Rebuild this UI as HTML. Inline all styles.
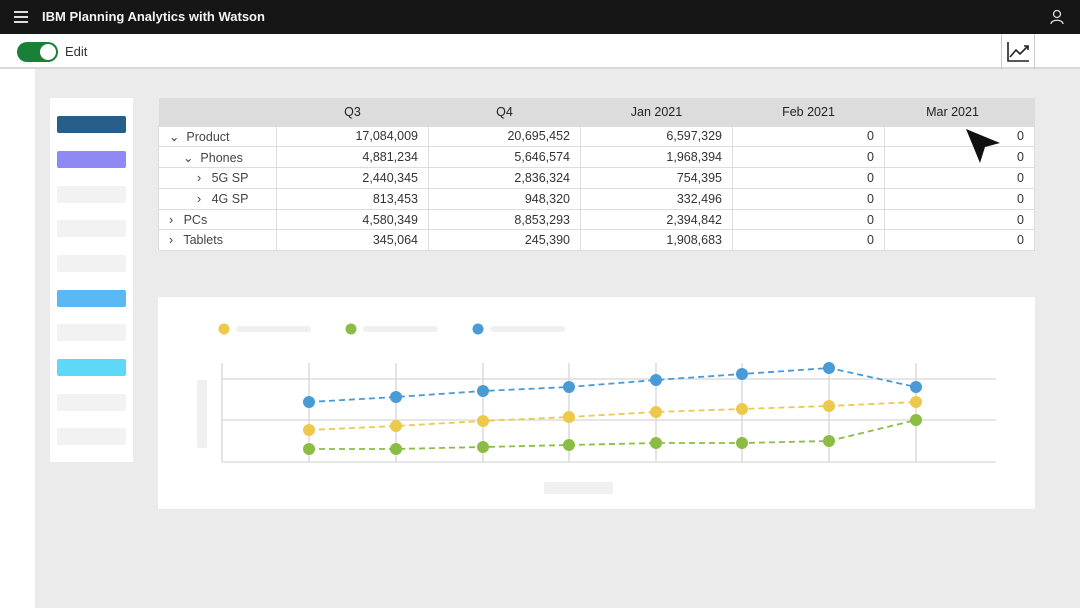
<!DOCTYPE html><html><head><style>
*{margin:0;padding:0;box-sizing:border-box}
body{width:1080px;height:608px;overflow:hidden;background:#ebebeb;font-family:"Liberation Sans",sans-serif;position:relative}
.a{position:absolute}
table{border-collapse:collapse;position:absolute;left:158px;top:98px;width:877px;font-size:12.5px;color:#333}
td{height:20.8px;border:1px solid #ddd;background:#fff;text-align:right;padding-right:10px}
th{height:28px;background:#dcdcdc;font-weight:normal;text-align:center;color:#222}
td.l{text-align:left;padding-left:10px;color:#444}
.sw{position:absolute;left:57px;width:69px;height:17px;border-radius:2px}
</style></head><body>
<div class="a" style="left:0;top:0;width:1080px;height:34px;background:#161616"></div>
<div class="a" style="left:14px;top:11px;width:14px;height:12px;border-top:2px solid #ddd;border-bottom:2px solid #ddd"><div style="margin-top:3px;border-top:2px solid #ddd"></div></div>
<div class="a" style="left:42px;top:9px;color:#f4f4f4;font-weight:bold;font-size:13px">IBM Planning Analytics with Watson</div>
<svg class="a" style="left:1050px;top:9px" width="14" height="16"><circle cx="7" cy="5" r="3.5" stroke="#ddd" fill="none" stroke-width="1.3"/><path d="M1 15C1 10 13 10 13 15" stroke="#ddd" fill="none" stroke-width="1.3"/></svg>
<div class="a" style="left:0;top:34px;width:1080px;height:35px;background:#fff;border-bottom:2px solid #d8d8d8"></div>
<div class="a" style="left:17px;top:42px;width:41px;height:20px;border-radius:10px;background:#198038"></div>
<div class="a" style="left:40px;top:44px;width:16px;height:16px;border-radius:8px;background:#fff"></div>
<div class="a" style="left:65px;top:44px;font-size:13px;color:#333">Edit</div>
<div class="a" style="left:1001px;top:34px;width:34px;height:35px;border-left:1px solid #ccc;border-right:1px solid #ccc"></div>
<svg class="a" style="left:1006px;top:40px" width="26" height="24"><path d="M2 2V21H23M4 17L10 10L14 14L22 6M18 6H22V10" stroke="#222" stroke-width="1.6" fill="none"/></svg>
<div class="a" style="left:0;top:69px;width:35px;height:539px;background:#fff"></div>
<div class="a" style="left:50px;top:98px;width:83px;height:364px;background:#fff"></div>
<div class="sw" style="top:116px;background:#285e8a"></div>
<div class="sw" style="top:151px;background:#8f88f5"></div>
<div class="sw" style="top:186px;background:#f2f2f2"></div>
<div class="sw" style="top:220px;background:#f2f2f2"></div>
<div class="sw" style="top:255px;background:#f2f2f2"></div>
<div class="sw" style="top:290px;background:#5bb8f2"></div>
<div class="sw" style="top:324px;background:#f2f2f2"></div>
<div class="sw" style="top:359px;background:#5ed8f7"></div>
<div class="sw" style="top:394px;background:#f2f2f2"></div>
<div class="sw" style="top:428px;background:#f2f2f2"></div>
<table>
<tr><th style="width:118px"></th><th style="width:152px">Q3</th><th style="width:152px">Q4</th><th style="width:152px">Jan 2021</th><th style="width:152px">Feb 2021</th><th style="padding-right:14px">Mar 2021</th></tr>
<tr><td class="l">&#8964;&nbsp; Product</td><td>17,084,009</td><td>20,695,452</td><td>6,597,329</td><td>0</td><td>0</td></tr>
<tr><td class="l" style="padding-left:24px">&#8964;&nbsp; Phones</td><td>4,881,234</td><td>5,646,574</td><td>1,968,394</td><td>0</td><td>0</td></tr>
<tr><td class="l" style="padding-left:38px">&#8250;&nbsp;&nbsp; 5G SP</td><td>2,440,345</td><td>2,836,324</td><td>754,395</td><td>0</td><td>0</td></tr>
<tr><td class="l" style="padding-left:38px">&#8250;&nbsp;&nbsp; 4G SP</td><td>813,453</td><td>948,320</td><td>332,496</td><td>0</td><td>0</td></tr>
<tr><td class="l">&#8250;&nbsp;&nbsp; PCs</td><td>4,580,349</td><td>8,853,293</td><td>2,394,842</td><td>0</td><td>0</td></tr>
<tr><td class="l">&#8250;&nbsp;&nbsp; Tablets</td><td>345,064</td><td>245,390</td><td>1,908,683</td><td>0</td><td>0</td></tr>
</table>
<svg class="a" style="left:964px;top:127px" width="40" height="40"><path d="M2 2L36 16L21 20L16 36Z" fill="#111"/></svg>
<svg class="a" style="left:158px;top:297px" width="877" height="212">
<rect width="877" height="212" fill="#fff"/>
<g transform="translate(-158,-297)">
<g fill="#f0f0f0"><rect x="236" y="326" width="75" height="6" rx="3"/><rect x="363" y="326" width="75" height="6" rx="3"/><rect x="490" y="326" width="75" height="6" rx="3"/><rect x="197" y="380" width="10" height="68" rx="2"/><rect x="544" y="482" width="69" height="12" rx="2"/></g>
<circle cx="224" cy="329" r="5.5" fill="#ecc94b"/><circle cx="351" cy="329" r="5.5" fill="#8bbd45"/><circle cx="478" cy="329" r="5.5" fill="#4a9bd5"/>
<g stroke="#d6d6d6" stroke-width="1.3">
<line x1="222" y1="379" x2="996" y2="379"/><line x1="222" y1="420" x2="996" y2="420"/><line x1="222" y1="462" x2="996" y2="462"/><line x1="222" y1="363" x2="222" y2="462"/>
<line x1="309" y1="363" x2="309" y2="462"/><line x1="396" y1="363" x2="396" y2="462"/><line x1="483" y1="363" x2="483" y2="462"/><line x1="569" y1="363" x2="569" y2="462"/><line x1="656" y1="363" x2="656" y2="462"/><line x1="742" y1="363" x2="742" y2="462"/><line x1="829" y1="363" x2="829" y2="462"/><line x1="916" y1="363" x2="916" y2="462"/>
</g>
<g fill="none" stroke-width="1.8" stroke-dasharray="6,4">
<polyline stroke="#4a9bd5" points="309,402 396,397 483,391 569,387 656,380 742,374 829,368 916,387"/>
<polyline stroke="#ecc94b" points="309,430 396,426 483,421 569,417 656,412 742,409 829,406 916,402"/>
<polyline stroke="#8bbd45" points="309,449 396,449 483,447 569,445 656,443 742,443 829,441 916,420"/>
</g>
<g fill="#4a9bd5"><circle cx="309" cy="402" r="6"/><circle cx="396" cy="397" r="6"/><circle cx="483" cy="391" r="6"/><circle cx="569" cy="387" r="6"/><circle cx="656" cy="380" r="6"/><circle cx="742" cy="374" r="6"/><circle cx="829" cy="368" r="6"/><circle cx="916" cy="387" r="6"/></g>
<g fill="#ecc94b"><circle cx="309" cy="430" r="6"/><circle cx="396" cy="426" r="6"/><circle cx="483" cy="421" r="6"/><circle cx="569" cy="417" r="6"/><circle cx="656" cy="412" r="6"/><circle cx="742" cy="409" r="6"/><circle cx="829" cy="406" r="6"/><circle cx="916" cy="402" r="6"/></g>
<g fill="#8bbd45"><circle cx="309" cy="449" r="6"/><circle cx="396" cy="449" r="6"/><circle cx="483" cy="447" r="6"/><circle cx="569" cy="445" r="6"/><circle cx="656" cy="443" r="6"/><circle cx="742" cy="443" r="6"/><circle cx="829" cy="441" r="6"/><circle cx="916" cy="420" r="6"/></g>
</g></svg>
</body></html>
